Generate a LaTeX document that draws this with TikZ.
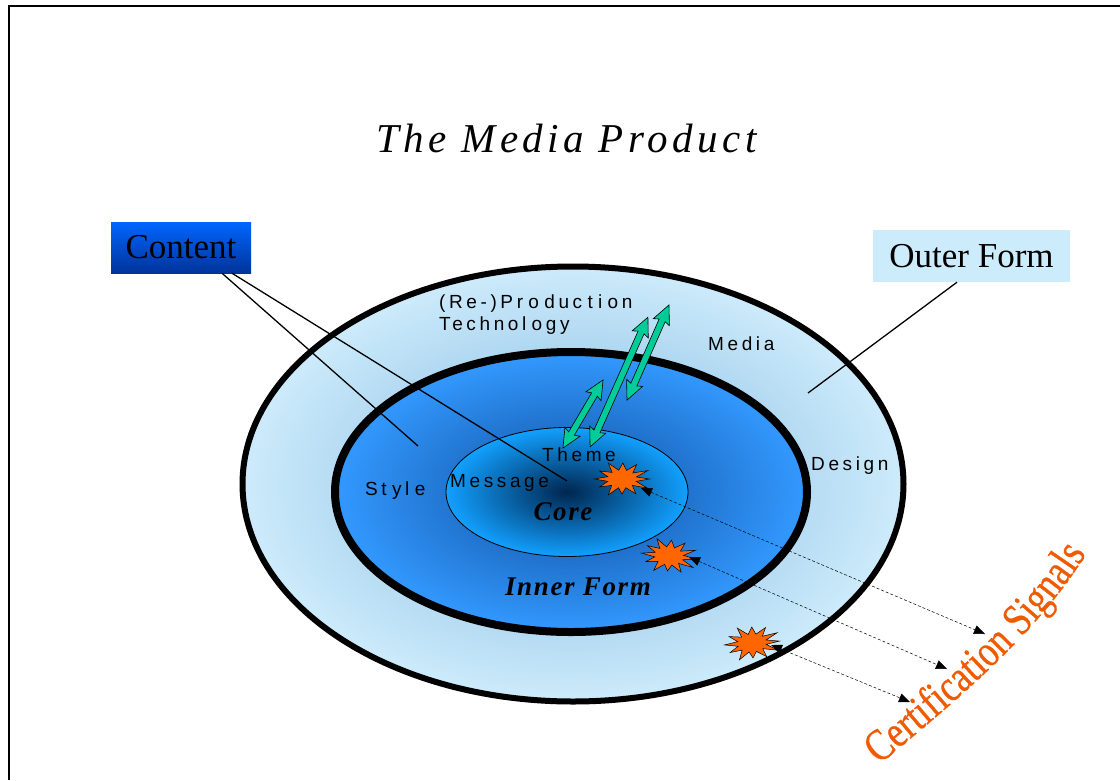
\documentclass[tikz,border=0pt]{standalone}
\usepackage{fontspec}
\setmainfont{Liberation Serif}
\newfontfamily\labfont[LetterSpace=19,WordSpace=0.6]{Liberation Sans}
\newfontfamily\titlefont[LetterSpace=11]{Liberation Serif}
\newfontfamily\corefont[LetterSpace=6]{Liberation Serif}
\newfontfamily\certfont[FakeStretch=0.8,FakeBold=0.6]{Liberation Serif}
\usetikzlibrary{shapes.geometric,shapes.arrows,arrows.meta,decorations.text,calc}
\definecolor{ringlight}{HTML}{CDEBFB}
\definecolor{ringdark}{HTML}{7DB6E0}
\definecolor{formedge}{HTML}{3399FF}
\definecolor{formdark}{HTML}{0E4F9E}
\definecolor{coreedge}{HTML}{12A0FF}
\definecolor{coredark}{HTML}{00264F}
\definecolor{arrowgreen}{HTML}{00CC99}
\definecolor{burstorange}{HTML}{FF6600}
\definecolor{certorange}{HTML}{F05A00}
\definecolor{boxtop}{HTML}{0066FF}
\definecolor{boxbot}{HTML}{00339A}
\definecolor{outerbox}{HTML}{CCEBFB}
\tikzset{
  lab/.style={anchor=base west, inner sep=0pt, font=\labfont\fontsize{19}{22}\selectfont},
  bigit/.style={anchor=base, inner sep=0pt, font=\corefont\bfseries\itshape\fontsize{27}{30}\selectfont},
  garrow/.style={double arrow, draw=black, line width=0.6pt, fill=arrowgreen, inner xsep=0pt, inner ysep=3pt,
    double arrow head extend=5.5pt, double arrow tip angle=50,
    double arrow head indent=2pt},
  sig/.style={line width=0.5pt, dash pattern=on 3pt off 2pt,
    {Triangle[length=11pt,width=9pt]}-{Triangle[length=11pt,width=9pt]}},
  conn/.style={line width=1.3pt},
  burst/.pic={\draw[fill=burstorange, line width=0.5pt, xscale=1.62]
    (0:17pt) -- (13:9pt) -- (28:18pt) -- (42:9pt) -- (58:17pt) -- (72:9pt) --
    (88:16pt) -- (103:9pt) -- (118:18pt) -- (133:9pt) -- (150:16pt) -- (165:9pt) --
    (180:17pt) -- (195:9pt) -- (210:16pt) -- (225:9pt) -- (242:18pt) -- (256:9pt) --
    (270:15pt) -- (285:9pt) -- (300:17pt) -- (315:9pt) -- (330:18pt) -- (345:9pt) -- cycle;}
}
\begin{document}
\begin{tikzpicture}[x=1pt,y=-1pt]
\useasboundingbox (0,0) rectangle (1120,780);
\fill[white] (0,0) rectangle (1120,780);
% frame
\draw[line width=2.5pt] (9,780) -- (9,6) -- (1120,6);
% title
\node[anchor=base west, inner sep=0pt, font=\titlefont\itshape\fontsize{41}{46}\selectfont] (title) at (376,152) {The Media Product};
% ellipses
\node[ellipse, draw, line width=6pt, minimum width=661, minimum height=435, inner color=ringdark, outer color=ringlight] (outer) at (573,484) {};
\node[ellipse, draw, line width=8pt, minimum width=472, minimum height=280, inner color=formdark, outer color=formedge] (inner) at (571,492) {};
\node[ellipse, draw, line width=0.8pt, minimum width=242, minimum height=129, inner color=coredark, outer color=coreedge] (core) at (567,492) {};
% labels
\node[lab] (repro) at (439,308) {(Re-)Pr o duc t i on};
\node[lab] (tech) at (439,330) {Technol ogy};
\node[lab] (media) at (708,350) {Media};
\node[lab] (design) at (811,470) {Design};
\node[lab] (style) at (365,495) {St yl e};
\node[lab] (message) at (450,487) {Message};
\node[lab] (theme) at (542,461) {Theme};
\node[bigit] (corelab) at (563,520) {Core};
\node[bigit] (innerlab) at (578,595) {Inner Form};
% boxes
\node[minimum width=140, minimum height=51, inner sep=0pt, top color=boxtop, bottom color=boxbot,
  font=\fontsize{35}{40}\selectfont] (content) at (181,247.5) {Content};
\node[minimum width=197, minimum height=52, inner sep=0pt, fill=outerbox,
  font=\fontsize{35}{40}\selectfont] (outerform) at (971.5,256) {Outer Form};
% connector ends
\coordinate (pA) at (418,446);
\coordinate (pB) at (567,481);
\coordinate (pO) at (808,393);
\draw[conn] ($(content.south)+(41,0)$) -- (pA);
\draw[conn] ($(content.south)+(51,0)$) -- (pB);
\draw[conn] ($(outerform.south)+(-14.5,0)$) -- (pO);
% green arrows
\node[garrow, minimum height=79, rotate=59.5] (g1) at (583,414) {};
\node[garrow, minimum height=142, rotate=65.96] (g2) at (619,382) {};
\node[garrow, minimum height=104, rotate=66.2] (g3) at (648,352.5) {};
% bursts
\pic (b1) at (622,479) {burst};
\pic[rotate=-6] (b2) at (669,556) {burst};
\pic[rotate=4] (b3) at (752,643) {burst};
\coordinate (s1) at (641,488);
\coordinate (s2) at (689,557);
\coordinate (s3) at (771,645);
\coordinate (t1) at (985,634);
\coordinate (t2) at (947,669);
\coordinate (t3) at (910,702);
\draw[sig] (s1) -- (t1);
\draw[sig] (s2) -- (t2);
\draw[sig] (s3) -- (t3);
% certification signals
\path[decorate, decoration={text along path, text align=center, text color=certorange,
  text={|\certfont\fontsize{45}{45}\selectfont|Certification Signals}}]
  (874,769) .. controls (953,703) and (1036,637) .. (1090,548);
\end{tikzpicture}
\end{document}
